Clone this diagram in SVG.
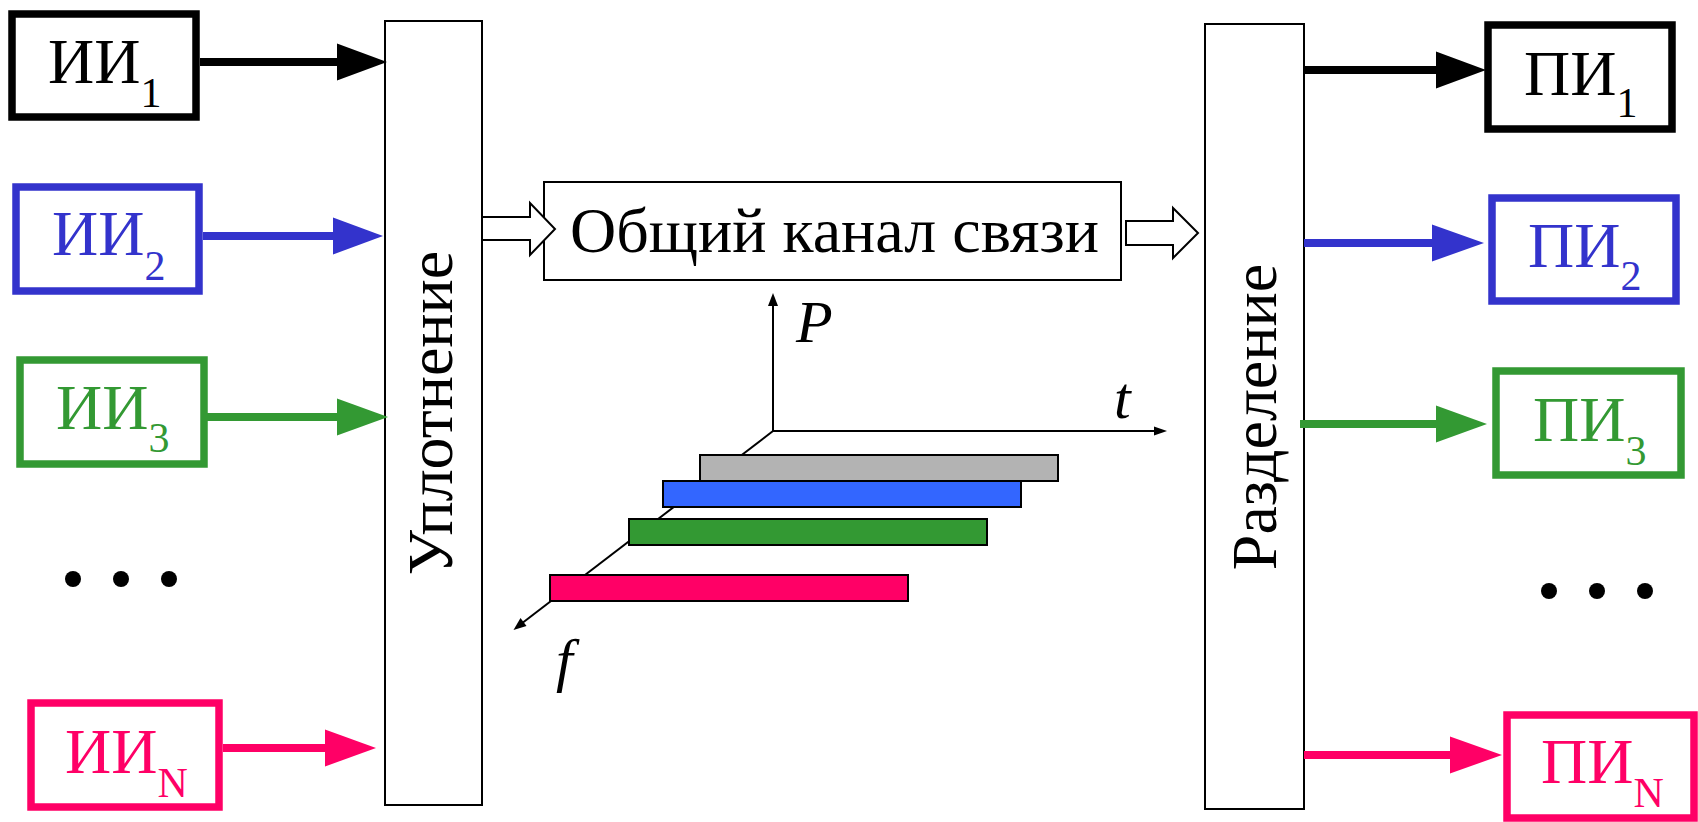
<svg xmlns="http://www.w3.org/2000/svg" width="1698" height="822" viewBox="0 0 1698 822" font-family="'Liberation Serif', 'Times New Roman', 'DejaVu Serif', serif">
<style>
.lbl{font-size:64px}
.sub{font-size:42px}
.it{font-style:italic;font-size:60px}
.box{fill:#fff;stroke-width:7.5}
.thin{fill:#fff;stroke:#000;stroke-width:2}
.ax{stroke:#000;stroke-width:2;fill:none}
.bar{stroke:#000;stroke-width:2}
.k{stroke:#000;fill:#000}
.b{stroke:#3333cc;fill:#3333cc}
.g{stroke:#339933;fill:#339933}
.p{stroke:#ff0066;fill:#ff0066}
</style>
<rect width="1698" height="822" fill="#fff"/>
<g id="mux"><rect class="thin" x="385" y="21" width="97" height="784"/><text class="lbl" text-anchor="middle" transform="translate(452,413) rotate(-90)">Уплотнение</text></g>
<g id="demux"><rect class="thin" x="1205" y="24" width="99" height="785"/><text class="lbl" text-anchor="middle" transform="translate(1276,417) rotate(-90)">Разделение</text></g>
<g id="channel"><rect class="thin" x="544" y="182" width="577" height="98"/><text class="lbl" x="570" y="252">Общий канал связи</text></g>
<g id="src1"><rect class="box" x="12" y="14" width="184" height="103" stroke="#000"/><text class="lbl" x="48" y="83" fill="#000">ИИ<tspan class="sub" dy="24">1</tspan></text></g>
<g id="src2"><rect class="box" x="16" y="187" width="183" height="104" stroke="#3333cc"/><text class="lbl" x="52" y="255" fill="#3333cc">ИИ<tspan class="sub" dy="25">2</tspan></text></g>
<g id="src3"><rect class="box" x="20" y="360" width="184" height="104" stroke="#339933"/><text class="lbl" x="56" y="429" fill="#339933">ИИ<tspan class="sub" dy="23">3</tspan></text></g>
<g id="srcN"><rect class="box" x="31" y="703" width="188" height="104" stroke="#ff0066"/><text class="lbl" x="65" y="773" fill="#ff0066">ИИ<tspan class="sub" dy="24">N</tspan></text></g>
<g id="dst1"><rect class="box" x="1488" y="25" width="184" height="104" stroke="#000"/><text class="lbl" x="1524" y="95" fill="#000">ПИ<tspan class="sub" dy="22">1</tspan></text></g>
<g id="dst2"><rect class="box" x="1492" y="198" width="184" height="103" stroke="#3333cc"/><text class="lbl" x="1528" y="267" fill="#3333cc">ПИ<tspan class="sub" dy="23">2</tspan></text></g>
<g id="dst3"><rect class="box" x="1496" y="371" width="185" height="104" stroke="#339933"/><text class="lbl" x="1533" y="441" fill="#339933">ПИ<tspan class="sub" dy="24">3</tspan></text></g>
<g id="dstN"><rect class="box" x="1507" y="715" width="187" height="103" stroke="#ff0066"/><text class="lbl" x="1541" y="783" fill="#ff0066">ПИ<tspan class="sub" dy="24">N</tspan></text></g>
<g id="dots"><circle cx="73" cy="579" r="8"/><circle cx="121" cy="579" r="8"/><circle cx="169" cy="579" r="8"/><circle cx="1549" cy="591" r="8"/><circle cx="1597" cy="591" r="8"/><circle cx="1645" cy="591" r="8"/></g>
<g id="connectors" stroke-width="8">
<line class="k" x1="200" y1="62" x2="340" y2="62"/><polygon class="k" stroke-width="0" points="337,43.5 387,62 337,80.5"/>
<line class="b" x1="203" y1="236" x2="336" y2="236"/><polygon class="b" stroke-width="0" points="333,217.5 383,236 333,254.5"/>
<line class="g" x1="204" y1="417" x2="340" y2="417"/><polygon class="g" stroke-width="0" points="337,398.5 388,417 337,435.5"/>
<line class="p" x1="223" y1="748" x2="328" y2="748"/><polygon class="p" stroke-width="0" points="325,729.5 376,748 325,766.5"/>
<line class="k" x1="1304" y1="70" x2="1439" y2="70"/><polygon class="k" stroke-width="0" points="1436,51.5 1486,70 1436,88.5"/>
<line class="b" x1="1304" y1="243" x2="1435" y2="243"/><polygon class="b" stroke-width="0" points="1432,224.5 1484,243 1432,261.5"/>
<line class="g" x1="1300" y1="424" x2="1439" y2="424"/><polygon class="g" stroke-width="0" points="1436,405.5 1487,424 1436,442.5"/>
<line class="p" x1="1304" y1="755" x2="1453" y2="755"/><polygon class="p" stroke-width="0" points="1450,736.5 1502,755 1450,773.5"/>
<polygon fill="#fff" stroke="#000" stroke-width="2" points="482,217 530,217 530,203 555,229 530,255 530,240 482,240"/>
<polygon fill="#fff" stroke="#000" stroke-width="2" points="1126,221 1173,221 1173,208 1198,233 1173,258 1173,245 1126,245"/>
</g>
<g id="axes">
<line class="ax" x1="773" y1="431" x2="773" y2="303"/><polygon points="773,293 768,306 778,306"/>
<line class="ax" x1="773" y1="431" x2="1157" y2="431"/><polygon points="1167,431 1154,426.5 1154,435.5"/>
<line class="ax" x1="773" y1="431" x2="521" y2="624"/><polygon points="513.5,630 520.5,618 526.5,626"/>
<text class="it" x="1114" y="418">t</text>
<text class="it" x="796" y="342">P</text>
<text class="it" x="556" y="680">f</text>
</g>
<g id="bars">
<rect class="bar" x="700" y="455" width="358" height="26" fill="#b3b3b3"/>
<rect class="bar" x="663" y="481" width="358" height="26" fill="#3366ff"/>
<rect class="bar" x="629" y="519" width="358" height="26" fill="#339933"/>
<rect class="bar" x="550" y="575" width="358" height="26" fill="#ff0066"/>
</g>
</svg>
